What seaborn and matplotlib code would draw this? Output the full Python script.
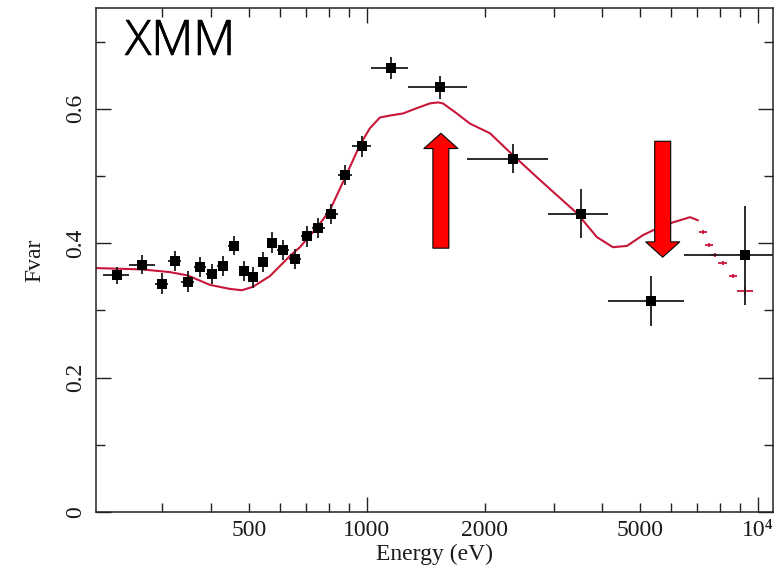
import numpy as np
import pandas as pd
import matplotlib
matplotlib.use("Agg")
import matplotlib.pyplot as plt
import matplotlib.patheffects as pe
import seaborn as sns
from matplotlib.ticker import FixedLocator, FuncFormatter

# ---------------- data ----------------
energy = [229.6, 265.9, 299, 323, 348, 374, 402.6, 428, 457, 484, 511, 542, 571,
          610, 654, 702, 751, 809, 878, 971, 1150, 1537, 2358, 3520, 5316, 9265]
fvar = [0.352, 0.368, 0.340, 0.374, 0.343, 0.365, 0.354, 0.366, 0.396, 0.359,
        0.349, 0.3725, 0.401, 0.390, 0.376, 0.410, 0.422, 0.443, 0.501, 0.544,
        0.661, 0.632, 0.526, 0.444, 0.314, 0.382]
fvar_err = [0.013, 0.014, 0.015, 0.015, 0.015, 0.015, 0.015, 0.015, 0.014, 0.015,
            0.015, 0.015, 0.015, 0.015, 0.015, 0.015, 0.015, 0.015, 0.015, 0.015,
            0.016, 0.017, 0.022, 0.036, 0.037, 0.074]
e_lo = [212, 246, 287, 311, 335, 361, 388, 415, 442, 470, 497, 526, 556,
        590, 632, 677, 726, 780, 843, 914, 1024, 1273, 1803, 2904, 4127, 6465]
e_hi = [246, 287, 311, 335, 361, 388, 415, 442, 470, 497, 526, 556, 590,
        632, 677, 726, 780, 843, 914, 1024, 1273, 1803, 2904, 4127, 6465, 11500]

model_e = [202.7, 265.9, 313.5, 348.5, 396.7, 446.3, 478.9, 510.9, 564.9, 635.6,
           674.1, 749.4, 804.2, 878.6, 959.6, 1017.8, 1079.4, 1145, 1236, 1342,
           1449, 1519, 1565, 1699, 1834, 2064, 2362, 2770, 3444, 3874, 4258, 4624,
           5080, 5515, 6062, 6701, 7023]
model_f = [0.363, 0.361, 0.357, 0.352, 0.338, 0.332, 0.330, 0.335, 0.351, 0.381,
           0.394, 0.425, 0.449, 0.497, 0.546, 0.571, 0.587, 0.590, 0.593, 0.601,
           0.608, 0.6095, 0.608, 0.593, 0.578, 0.5636, 0.531, 0.494, 0.4446, 0.409,
           0.394, 0.396, 0.412, 0.422, 0.431, 0.4387, 0.434]

model_hi_e = [7234, 7494, 7741, 8116, 8630, 9265]
model_hi_f = [0.4164, 0.3970, 0.3830, 0.3703, 0.3510, 0.3286]
model_hi_lo = [7060, 7320, 7560, 7920, 8420, 8850]
model_hi_hi = [7410, 7670, 7920, 8320, 8840, 9700]
model_hi_err = [0.003, 0.003, 0.003, 0.003, 0.003, 0.006]

arrow_up = dict(energy=1546, base=0.3926, tip=0.5636)
arrow_down = dict(energy=5705, base=0.5517, tip=0.3792)

x_major = [1000, 10000]
x_minor = [300, 400, 500, 600, 700, 800, 900, 2000, 3000, 4000, 5000, 6000, 7000, 8000, 9000]
x_labels = {500: "500", 1000: "1000", 2000: "2000", 5000: "5000", 10000: "10\u2074"}
y_major = [0, 0.2, 0.4, 0.6]
y_minor = [0.1, 0.3, 0.5, 0.7]
y_labels = ["0", "0.2", "0.4", "0.6"]

# ---------------- plotting ----------------
sns.set_theme(style="ticks")
plt.rcParams["font.family"] = ["Liberation Serif", "DejaVu Serif"]
plt.rcParams["mathtext.fontset"] = "stix"

fig = plt.figure(figsize=(7.77, 5.75), dpi=100)
ax = fig.add_axes([96 / 777, 63 / 575, 677 / 777, 504 / 575])

red = "#c8163a"
sns.lineplot(x=model_e, y=model_f, ax=ax, color=red, linewidth=1.5,
             estimator=None, sort=False)

mhe = np.array(model_hi_e)
ax.errorbar(mhe, model_hi_f, xerr=[mhe - np.array(model_hi_lo), np.array(model_hi_hi) - mhe],
            yerr=model_hi_err, fmt="none", ecolor=red, elinewidth=1.3, capsize=0)

e = np.array(energy)
ax.errorbar(e, fvar, xerr=[e - np.array(e_lo), np.array(e_hi) - e], yerr=fvar_err,
            fmt="none", ecolor="#1a1a1a", elinewidth=1.3, capsize=0, clip_on=True)
df = pd.DataFrame({"energy": energy, "fvar": fvar})
sns.scatterplot(data=df, x="energy", y="fvar", ax=ax, marker="s", s=42,
                color="black", edgecolor="black", linewidth=0, zorder=5)

for arr in (arrow_up, arrow_down):
    ax.annotate("", xy=(arr["energy"], arr["tip"]), xytext=(arr["energy"], arr["base"]),
                arrowprops=dict(arrowstyle="simple,head_width=2.45,head_length=1.1,tail_width=1.15",
                                fc="#ff0000", ec="black", lw=0.8,
                                shrinkA=0, shrinkB=0, mutation_scale=10),
                zorder=6)

ax.set_xscale("log")
ax.set_xlim(203, 10920)
ax.set_ylim(0, 0.75)

ax.xaxis.set_major_locator(FixedLocator(x_major))
ax.xaxis.set_minor_locator(FixedLocator(x_minor))
fmt = FuncFormatter(lambda v, p: x_labels.get(int(round(v)), ""))
ax.xaxis.set_major_formatter(fmt)
ax.xaxis.set_minor_formatter(fmt)

ax.set_yticks(y_major)
ax.set_yticklabels(y_labels)
ax.set_yticks(y_minor, minor=True)

ax.tick_params(which="both", direction="in", top=True, right=True, width=1.0,
               color="#222222", labelsize=17, labelcolor="#1a1a1a")
ax.tick_params(which="major", length=11)
ax.tick_params(which="minor", length=6.5)
ax.tick_params(axis="x", which="both", pad=6)
ax.tick_params(axis="y", which="both", pad=7)
for lab in ax.get_yticklabels():
    lab.set_rotation(90)
    lab.set_va("center")

for sp in ax.spines.values():
    sp.set_linewidth(1.1)
    sp.set_color("#222222")

ax.set_xlabel("Energy (eV)", fontsize=17, color="#1a1a1a", labelpad=2)
ax.set_ylabel("Fvar", fontsize=17, color="#1a1a1a", labelpad=14)

ax.text(0.043, 0.907, "XMM", transform=ax.transAxes, fontsize=35,
        family=["Open Sans", "DejaVu Sans"], fontweight="light", color="black",
        ha="left", va="baseline",
        path_effects=[pe.withStroke(linewidth=0.6, foreground="black")])

fig.savefig("out.png", dpi=100)
